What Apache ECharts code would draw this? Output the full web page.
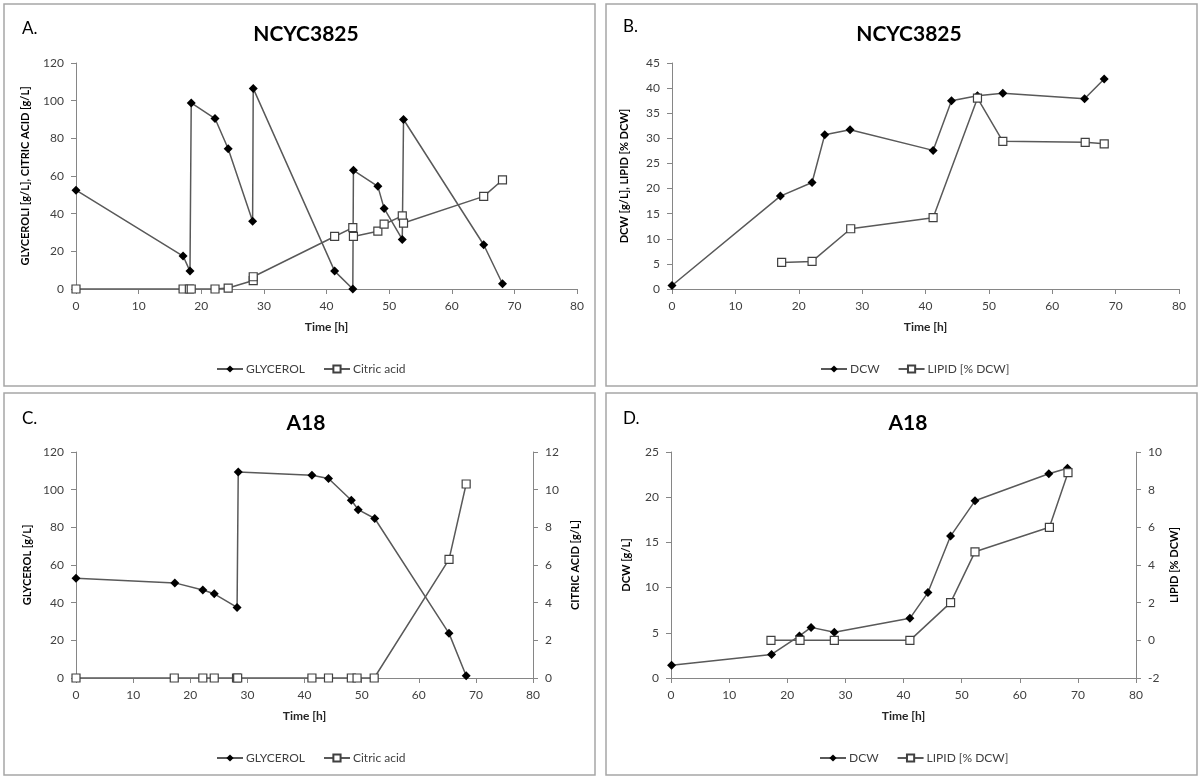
<!DOCTYPE html>
<html>
<head>
<meta charset="utf-8">
<script src="https://cdn.jsdelivr.net/npm/echarts@6/dist/echarts.min.js"></script>
<style>
html,body{margin:0;padding:0;background:#fff;}
#c{width:1200px;height:780px;}
</style>
</head>
<body>
<div id="c"></div>
<script>
// ---- Data ----
const xTicks = [0, 10, 20, 30, 40, 50, 60, 70, 80];

// Panel A: NCYC3825 glycerol / citric acid
const timeA_gly = [0, 17.1, 18.2, 18.4, 22.2, 24.3, 28.2, 28.3, 41.3, 44.2, 44.3, 48.2, 49.2, 52.1, 52.3, 65.1, 68.1];
const glycerolA = [52.5, 17.5, 9.5, 98.8, 90.5, 74.5, 36, 106.5, 9.5, 0, 63, 54.5, 42.8, 26.3, 90, 23.5, 2.8];
const timeA_cit = [0, 17.1, 18.1, 18.4, 22.2, 24.3, 28.3, 28.3, 41.3, 44.2, 44.3, 48.2, 49.2, 52.1, 52.3, 65.1, 68.1];
const citricA = [0, 0, 0, 0, 0, 0.5, 4.5, 6.5, 27.9, 32.6, 27.9, 30.7, 34.4, 38.8, 35, 49.2, 57.9];

// Panel B: NCYC3825 DCW / lipid
const timeB_dcw = [0, 17.1, 22.1, 24.1, 28.1, 41.2, 44.1, 48.2, 52.2, 65.1, 68.2];
const dcwB = [0.7, 18.5, 21.2, 30.7, 31.7, 27.6, 37.5, 38.5, 39, 37.9, 41.8];
const timeB_lip = [17.3, 22.1, 28.2, 41.2, 48.2, 52.2, 65.2, 68.2];
const lipidB = [5.3, 5.5, 12, 14.2, 38, 29.4, 29.2, 28.9];

// Panel C: A18 glycerol / citric acid
const timeC_gly = [0, 17.3, 22.2, 24.2, 28.2, 28.4, 41.3, 44.2, 48.2, 49.4, 52.3, 65.3, 68.3];
const glycerolC = [53, 50.5, 46.7, 44.7, 37.5, 109.4, 107.6, 105.9, 94.4, 89.4, 84.7, 23.7, 1.2];
const timeC_cit = [0, 17.2, 22.2, 24.2, 28.1, 28.3, 41.3, 44.2, 48.2, 49.2, 52.2, 65.3, 68.3];
const citricC = [0, 0, 0, 0, 0, 0, 0, 0, 0, 0, 0, 6.3, 10.3];

// Panel D: A18 DCW / lipid
const timeD_dcw = [0.1, 17.3, 22.1, 24.1, 28.1, 41.1, 44.2, 48.1, 52.3, 65.0, 68.2];
const dcwD = [1.4, 2.6, 4.65, 5.6, 5.05, 6.6, 9.45, 15.7, 19.6, 22.6, 23.2];
const timeD_lip = [17.2, 22.2, 28.1, 41.1, 48.1, 52.3, 65.1, 68.3];
const lipidD = [0, 0, 0, 0, 2.0, 4.7, 6.0, 8.9];

const titles = ['NCYC3825', 'NCYC3825', 'A18', 'A18'];
const letters = ['A.', 'B.', 'C.', 'D.'];

// ---- Styling ----
const FONT = 'Lato, "Open Sans", sans-serif';
const AX = '#868686';
const TXT = '#404040';
const LINE = '#595959';

function zip(xs, ys) { return xs.map((x, i) => [x, ys[i]]); }

const grids = [
  {left: 76, top: 63, width: 501, height: 226},
  {left: 672, top: 63, width: 507, height: 226},
  {left: 76, top: 452, width: 457, height: 226},
  {left: 671, top: 452, width: 465, height: 226}
];

function xAxis(g) {
  return {
    type: 'value', gridIndex: g, min: 0, max: 80, interval: 10,
    name: 'Time [h]', nameLocation: 'middle', nameGap: 32,
    nameTextStyle: {fontFamily: FONT, fontWeight: 'bold', fontSize: 12, color: '#262626'},
    axisLine: {show: true, lineStyle: {color: AX, width: 1}},
    axisTick: {show: true, inside: false, length: 5, lineStyle: {color: AX}},
    axisLabel: {fontFamily: FONT, fontSize: 12, color: TXT, margin: 11},
    splitLine: {show: false}
  };
}
function yAxis(g, min, max, interval, name, pos, gap) {
  return {
    type: 'value', gridIndex: g, min: min, max: max, interval: interval, position: pos,
    name: name, nameLocation: 'middle', nameGap: gap, nameRotate: 90,
    nameTextStyle: {fontFamily: FONT, fontWeight: 'bold', fontSize: 11, color: '#000'},
    axisLine: {show: true, onZero: false, lineStyle: {color: AX, width: 1}},
    axisTick: {show: true, inside: false, length: 5, lineStyle: {color: AX}},
    axisLabel: {fontFamily: FONT, fontSize: 12, color: TXT, margin: 12},
    splitLine: {show: false}
  };
}

function diamondSeries(name, xi, yi, data) {
  return {
    name: name, type: 'line', xAxisIndex: xi, yAxisIndex: yi, data: data,
    symbol: 'diamond', symbolSize: 9, showAllSymbol: true,
    itemStyle: {color: '#000'},
    lineStyle: {color: LINE, width: 1.5},
    emphasis: {disabled: true}, animation: false, z: 3
  };
}
function squareSeries(name, xi, yi, data) {
  return {
    name: name, type: 'line', xAxisIndex: xi, yAxisIndex: yi, data: data,
    symbol: 'rect', symbolSize: 8, showAllSymbol: true,
    itemStyle: {color: '#fff', borderColor: '#404040', borderWidth: 1.2},
    lineStyle: {color: LINE, width: 1.5},
    emphasis: {disabled: true}, animation: false, z: 4
  };
}

const panels = [[4, 4], [606, 4], [4, 393], [606, 393]];
const titleCenters = [[301, 32], [904, 32], [301, 421], [903, 421]];
const letterPos = [[22, 20], [623, 18], [22, 410], [623, 410]];

const graphic = [];
panels.forEach(p => {
  graphic.push({type: 'rect', shape: {x: p[0], y: p[1], width: 591, height: 382},
    style: {fill: 'none', stroke: '#a6a6a6', lineWidth: 1.5}, silent: true});
});
letterPos.forEach((p, i) => {
  graphic.push({type: 'text', x: p[0], y: p[1],
    style: {text: letters[i], font: '17px ' + FONT, fill: '#000'}, silent: true});
});

const option = {
  animation: false,
  backgroundColor: '#fff',
  graphic: graphic,
  title: titles.map((t, i) => ({
    text: t, left: titleCenters[i][0], top: titleCenters[i][1] - 13, textAlign: 'center',
    textStyle: {fontFamily: FONT, fontWeight: 'bold', fontSize: 21, color: '#000'}
  })),
  legend: [
    {left: 211, top: 358, data: ['GLYCEROL', 'Citric acid']},
    {left: 815, top: 358, data: ['DCW', 'LIPID [% DCW]']},
    {left: 211, top: 747, data: ['GLYCEROL', 'Citric acid']},
    {left: 814, top: 747, data: ['DCW', 'LIPID [% DCW]']}
  ].map(l => Object.assign(l, {
    itemWidth: 26, itemHeight: 9, itemGap: 18, selectedMode: false,
    textStyle: {fontFamily: FONT, fontSize: 12, color: TXT, padding: [0, 0, 0, -2]}
  })),
  grid: grids,
  xAxis: [xAxis(0), xAxis(1), xAxis(2), xAxis(3)],
  yAxis: [
    yAxis(0, 0, 120, 20, 'GLYCEROLI [g/L], CITRIC ACID [g/L]', 'left', 45),
    yAxis(1, 0, 45, 5, 'DCW [g/L], LIPID [% DCW]', 'left', 42),
    yAxis(2, 0, 120, 20, 'GLYCEROL [g/L]', 'left', 43),
    yAxis(2, 0, 12, 2, 'CITRIC ACID [g/L]', 'right', 37),
    yAxis(3, 0, 25, 5, 'DCW [g/L]', 'left', 39),
    yAxis(3, -2, 10, 2, 'LIPID [% DCW]', 'right', 33)
  ],
  series: [
    diamondSeries('GLYCEROL', 0, 0, zip(timeA_gly, glycerolA)),
    squareSeries('Citric acid', 0, 0, zip(timeA_cit, citricA)),
    diamondSeries('DCW', 1, 1, zip(timeB_dcw, dcwB)),
    squareSeries('LIPID [% DCW]', 1, 1, zip(timeB_lip, lipidB)),
    diamondSeries('GLYCEROL', 2, 2, zip(timeC_gly, glycerolC)),
    squareSeries('Citric acid', 2, 3, zip(timeC_cit, citricC)),
    diamondSeries('DCW', 3, 4, zip(timeD_dcw, dcwD)),
    squareSeries('LIPID [% DCW]', 3, 5, zip(timeD_lip, lipidD))
  ]
};

const chart = echarts.init(document.getElementById('c'), null, {renderer: 'canvas'});
chart.setOption(option);
</script>
</body>
</html>
